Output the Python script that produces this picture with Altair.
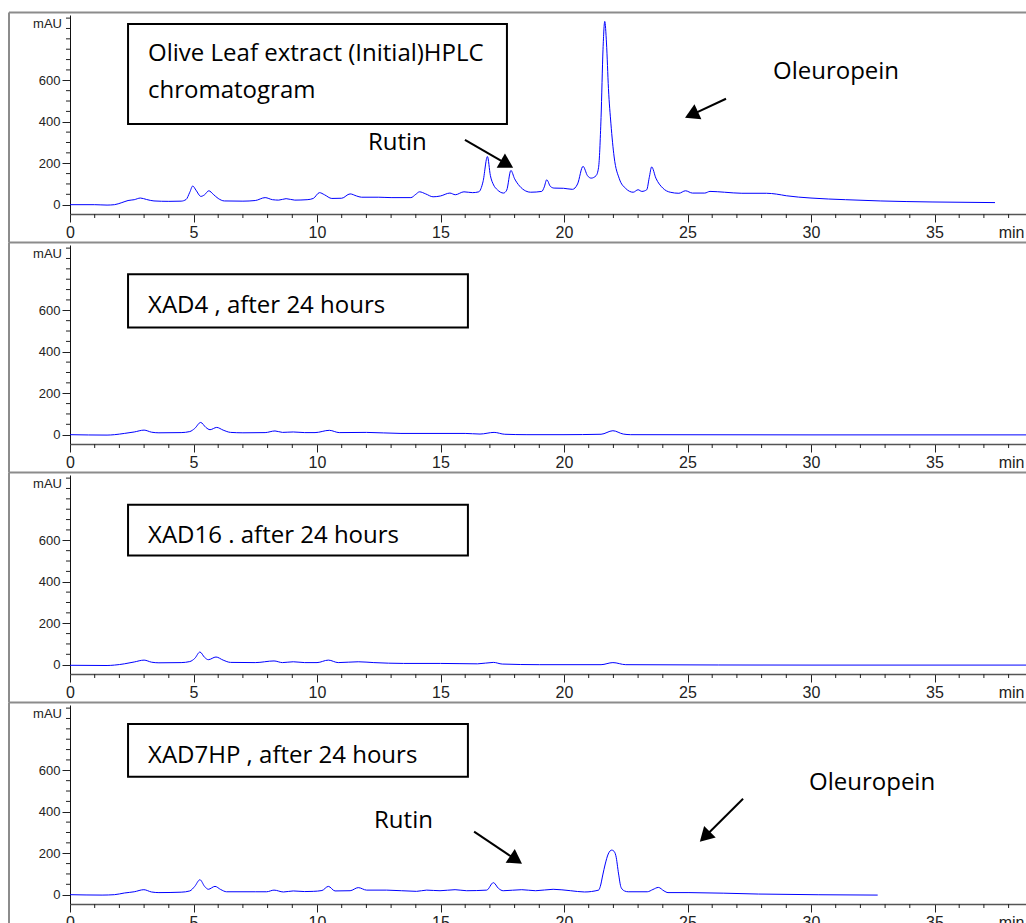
import math
import altair as alt
import pandas as pd

# ---------------- data ----------------
# Olive leaf extract (initial)
initial_t = [0, 1.0, 1.5, 1.8, 2.1, 2.35, 2.6, 2.85, 3.1, 3.4, 4.0, 4.5, 4.7, 4.85, 4.97, 5.1, 5.3, 5.45,
             5.62, 5.8, 6.0, 6.25, 7.0, 7.5, 7.9, 8.2, 8.45, 8.75, 9.1, 9.6, 9.85, 10.1, 10.3, 10.6, 11.0,
             11.34, 11.6, 11.8, 12.5, 13.0, 13.8, 14.0, 14.15, 14.4, 14.7, 15.0, 15.38, 15.6, 15.95, 16.3,
             16.55, 16.72, 16.9, 17.02, 17.15, 17.3, 17.55, 17.68, 17.85, 18.0, 18.2, 18.45, 18.65, 19.1,
             19.2, 19.3, 19.45, 19.6, 19.98, 20.34, 20.55, 20.77, 20.95, 21.1, 21.3, 21.4, 21.5, 21.58,
             21.65, 21.72, 21.8, 21.9, 22.03, 22.24, 22.5, 22.8, 23.0, 23.15, 23.35, 23.45, 23.55, 23.72,
             24.0, 24.3, 24.65, 24.92, 25.2, 25.7, 25.91, 26.5, 27.2, 28.2, 28.6, 29.0, 30.0, 31.4, 32.8,
             34.9, 37.45]
initial_mau = [0, 0, -2, 0, 10, 20, 24, 32, 25, 18, 16, 17, 25, 60, 90, 70, 40, 48,
               67, 50, 30, 18, 17, 20, 34, 24, 22, 29, 22, 24, 30, 58, 48, 30, 31,
               52, 42, 36, 36, 34, 34, 50, 62, 52, 38, 42, 56, 48, 62, 58,
               62, 110, 232, 140, 95, 72, 56, 70, 165, 125, 90, 66, 60, 64,
               85, 120, 88, 80, 79, 74, 100, 185, 140, 128, 140, 180, 420, 750,
               884, 780, 560, 390, 230, 125, 78, 60, 72, 64, 72, 130, 182, 128,
               80, 60, 55, 67, 56, 56, 64, 60, 55, 55, 51, 43, 32, 24, 18,
               13, 10]

# XAD4, after 24 hours
xad4_t = [0, 1.5, 1.8, 2.2, 2.6, 3.0, 3.3, 3.6, 4.5, 4.85, 5.05, 5.29, 5.5, 5.67, 5.94, 6.2, 6.5, 7.0,
          7.9, 8.3, 8.6, 9.04, 9.5, 9.92, 10.5, 10.9, 12.0, 13.4, 16.0, 16.6, 17.17, 17.6, 18.5, 20.0,
          21.5, 21.98, 22.4, 22.7, 30.0, 39.5]
xad4_mau = [0, -2, 0, 6, 13, 22, 12, 9, 10, 15, 30, 59, 35, 24, 35, 22, 11, 9,
            10, 18, 11, 13, 10, 10, 21, 10, 11, 6, 6, 3, 11, 2, 0, 0,
            2, 19, 3, 0, -1, -1]

# XAD16, after 24 hours
xad16_t = [0, 1.5, 1.8, 2.2, 2.6, 3.0, 3.3, 3.6, 4.5, 4.85, 5.05, 5.26, 5.45, 5.6, 5.91, 6.2, 6.5, 7.5,
           8.26, 8.6, 9.04, 9.5, 10.0, 10.46, 10.86, 11.67, 12.3, 13.5, 15.0, 16.5, 17.14, 17.5, 19.0,
           21.5, 21.98, 22.5, 30.0, 39.5]
xad16_mau = [-3, -4, -2, 4, 13, 22, 12, 9, 10, 15, 30, 61, 35, 24, 37, 22, 11, 10,
             18, 10, 14, 10, 10, 22, 10, 14, 10, 6, 6, 4, 11, 3, 0,
             0, 10, 0, -2, -2]

# XAD7HP, after 24 hours
xad7_t = [0, 1.3, 1.8, 2.2, 2.6, 2.99, 3.3, 3.6, 4.5, 4.85, 5.05, 5.26, 5.45, 5.6, 5.87, 6.1, 6.34, 7.5,
          7.96, 8.26, 8.64, 9.04, 9.5, 9.85, 10.2, 10.46, 10.73, 11.34, 11.67, 12.01, 12.82, 14.03,
          14.44, 14.98, 15.59, 16.06, 16.87, 17.14, 17.35, 17.54, 18.29, 18.85, 19.56, 20.27, 20.83,
          21.4, 21.47, 21.57, 21.67, 21.79, 21.93, 22.0, 22.1, 22.21, 22.31, 22.45, 22.6, 23.37, 23.6,
          23.82, 24.05, 24.21, 25.06, 27.88, 32.7]
xad7_mau = [0, -2, 0, 8, 14, 24, 13, 10, 12, 18, 40, 72, 40, 26, 40, 25, 14, 14,
            14, 22, 13, 18, 15, 16, 20, 40, 18, 19, 34, 22, 22, 16,
            22, 19, 24, 19, 22, 58, 30, 19, 24, 19, 26, 19, 13,
            22, 40, 95, 148, 196, 215, 212, 188, 100, 35, 18, 14, 14, 25,
            35, 18, 10, 10, 3, -2]

# annotation texts
box_lines = [
    ["Olive Leaf extract (Initial)HPLC", "chromatogram"],
    ["XAD4 , after 24 hours"],
    ["XAD16 . after 24 hours"],
    ["XAD7HP , after 24 hours"],
]
x_ticks = [0, 5, 10, 15, 20, 25, 30, 35]
y_ticks = [0, 200, 400, 600]

# ---------------- layout ----------------
PPM_TARGET = 24.7
W, H = 976, 199
XMAX = W / PPM_TARGET
YMIN, YMAX = -45, 915
PPM = W / XMAX
PPA = H / (YMAX - YMIN)
SPACING = 31

TICK_FONT = "Liberation Sans Narrow, Liberation Sans, Arial, sans-serif"
NOTE_FONT = "Open Sans"

x_scale = alt.Scale(domain=[0, XMAX], nice=False, zero=False)
y_scale = alt.Scale(domain=[YMIN, YMAX], nice=False, zero=False)

x_axis = alt.Axis(values=x_ticks, tickSize=8, tickColor="#222", labelPadding=2, labelFlush=False,
                  labelFont=TICK_FONT, labelFontSize=16, labelColor="#222", labelOverlap=False,
                  grid=False, title=None, domainColor="#555", domainWidth=1.5)
y_axis = alt.Axis(values=y_ticks, tickSize=8, tickColor="#222", labelPadding=2,
                  labelFont=TICK_FONT, labelFontSize=13, labelColor="#222", labelOverlap=False,
                  grid=False, title=None, domainColor="#111", domainWidth=1)


def X(field="t"):
    return alt.X(f"{field}:Q", scale=x_scale, axis=x_axis)


def Y(field="v"):
    return alt.Y(f"{field}:Q", scale=y_scale, axis=y_axis)


minor_x = pd.DataFrame({"t": [m for m in range(1, 40) if m % 5 != 0]})
minor_y = pd.DataFrame({"v": [m for m in range(50, 901, 50) if not (m % 200 == 0 and m <= 600)]})

HEAD_SIZE = 270
HEAD_R = math.sqrt(HEAD_SIZE) / 2
HEAD_H = math.sqrt(3) / 2 * HEAD_R

FRAME_X = -61          # left frame line, relative to plot area
FRAME_TOP = -2.5       # panel separator line, relative to plot area
RIGHT_EXT = 40         # separator lines run past the plot area
BOTTOM_EXT = 60        # last frame line runs past the page


def panel(t, v, lines, box, line_pos, notes, arrows, last=False):
    layers = []
    one = pd.DataFrame({"a": [0]})
    # frame lines
    layers.append(alt.Chart(one).mark_rule(color="#8c8c8c", strokeWidth=2).encode(
        x=alt.value(FRAME_X), x2=alt.value(W + RIGHT_EXT), y=alt.value(FRAME_TOP)))
    layers.append(alt.Chart(one).mark_rule(color="#8c8c8c", strokeWidth=2).encode(
        x=alt.value(FRAME_X), y=alt.value(FRAME_TOP),
        y2=alt.value(H + BOTTOM_EXT if last else H + SPACING + FRAME_TOP)))
    # minor ticks
    layers.append(alt.Chart(minor_x).mark_rule(color="#222", strokeWidth=1).encode(
        x=X(), y=alt.value(H), y2=alt.value(H + 4)))
    layers.append(alt.Chart(minor_y).mark_rule(color="#222", strokeWidth=1).encode(
        y=Y(), x=alt.value(-4), x2=alt.value(0)))
    # unit labels
    layers.append(alt.Chart(pd.DataFrame({"v": [870], "label": ["mAU"]})).mark_text(
        align="right", baseline="middle", font=TICK_FONT, fontSize=13, color="#222").encode(
        x=alt.value(-8), y=Y(), text="label:N"))
    layers.append(alt.Chart(pd.DataFrame({"t": [37.6], "label": ["min"]})).mark_text(
        align="left", baseline="top", font=TICK_FONT, fontSize=16, color="#222").encode(
        x=X(), y=alt.value(H + 11), text="label:N"))
    # box
    bx = pd.DataFrame({"t": [box[0]], "t2": [box[1]], "v": [box[2]], "v2": [box[3]]})
    layers.append(alt.Chart(bx).mark_rect(fillOpacity=0, stroke="black", strokeWidth=2).encode(
        x=X(), x2="t2:Q", y=Y(), y2="v2:Q"))
    # texts
    tx = pd.DataFrame({"t": [p[0] for p in line_pos] + [n[1] for n in notes],
                       "v": [p[1] for p in line_pos] + [n[2] for n in notes],
                       "label": list(lines) + [n[0] for n in notes]})
    layers.append(alt.Chart(tx).mark_text(align="left", baseline="alphabetic", font=NOTE_FONT,
                                          fontSize=24, color="black").encode(
        x=X(), y=Y(), text="label:N"))
    # arrows
    if arrows:
        rows, heads = [], []
        for (t0, v0), (t1, v1) in arrows:
            dx = (t1 - t0) * PPM
            dy = -(v1 - v0) * PPA
            L = math.hypot(dx, dy)
            ux, uy = dx / L, dy / L
            ct = t1 - ux * HEAD_H / PPM
            cv = v1 + uy * HEAD_H / PPA
            ang = math.degrees(math.atan2(dx, -dy)) % 360
            rows.append({"t": t0, "v": v0, "t2": ct, "v2": cv})
            heads.append({"t": ct, "v": cv, "ang": ang})
        layers.append(alt.Chart(pd.DataFrame(rows)).mark_rule(color="black", strokeWidth=2).encode(
            x=X(), x2="t2:Q", y=Y(), y2="v2:Q"))
        layers.append(alt.Chart(pd.DataFrame(heads)).mark_point(
            shape="triangle-up", filled=True, size=HEAD_SIZE, color="black", opacity=1).encode(
            x=X(), y=Y(), angle=alt.Angle("ang:Q", scale=None)))
    # trace
    layers.append(alt.Chart(pd.DataFrame({"t": t, "v": v})).mark_line(
        color="#0000ff", strokeWidth=1, interpolate="monotone").encode(x=X(), y=Y()))
    return alt.layer(*layers).properties(width=W, height=H)


p1 = panel(initial_t, initial_mau, box_lines[0], (2.35, 17.69, 389, 871),
           [(3.16, 694), (3.16, 516)],
           [("Rutin", 12.06, 265), ("Oleuropein", 28.46, 606)],
           [((15.99, 313), (17.94, 178)), ((26.56, 511), (24.9, 419))])
p2 = panel(xad4_t, xad4_mau, box_lines[1], (2.35, 16.11, 517, 774), [(3.16, 585)], [], [])
p3 = panel(xad16_t, xad16_mau, box_lines[2], (2.35, 16.11, 527, 771), [(3.16, 586)], [], [])
p4 = panel(xad7_t, xad7_mau, box_lines[3], (2.35, 16.11, 569, 823), [(3.16, 633)],
           [("Rutin", 12.31, 324), ("Oleuropein", 29.92, 505)],
           [((16.36, 304), (18.3, 149)), ((27.25, 463), (25.5, 255))], last=True)

# page is 1026 x 923: trim the overflowing right and bottom parts like the reference crop
LEFT_PAD, TOP_PAD = 8, 11
bounds_w = (W + RIGHT_EXT + 1) - (FRAME_X - 1)
bounds_h = (3 * (H + SPACING) + H + BOTTOM_EXT + 1) - (FRAME_TOP - 1)
RIGHT_PAD = 1026 - LEFT_PAD - bounds_w
BOTTOM_PAD = 923 - TOP_PAD - bounds_h

chart = alt.vconcat(p1, p2, p3, p4, spacing=SPACING, bounds="flush").properties(
    padding={"left": LEFT_PAD, "top": TOP_PAD, "right": RIGHT_PAD, "bottom": BOTTOM_PAD}
).configure_view(stroke=None)

chart.save("out.html", embed_options={"renderer": "svg", "actions": False})
